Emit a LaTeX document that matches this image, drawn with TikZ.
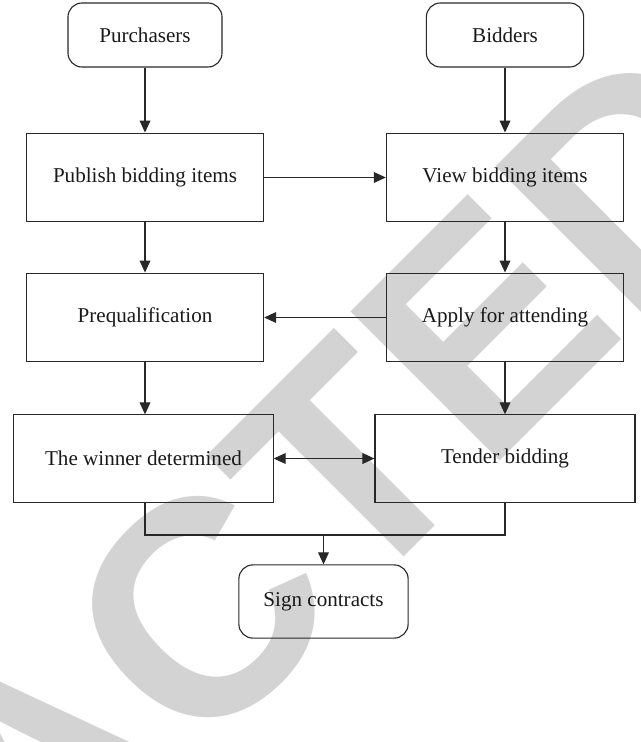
\documentclass[tikz,border=0pt]{standalone}
\usepackage{fontspec}
\setmainfont{Liberation Serif}
\newfontfamily\wmfont{Liberation Sans}
\usetikzlibrary{arrows.meta}
\definecolor{wmgray}{RGB}{211,211,211}
\definecolor{lncol}{RGB}{40,40,40}
\tikzset{
  flowbox/.style={draw=lncol, line width=0.8pt, align=center, font=\fontsize{15}{18}\selectfont, text=black!90, inner sep=0pt},
  roundbox/.style={flowbox, rounded corners=3.5mm},
  flowarrow/.style={draw=lncol, line width=0.8pt, -{Triangle[length=3mm,width=2.7mm]}},
  wmark/.style={rotate=45, inner sep=0pt, text=wmgray, font=\wmfont\bfseries\fontsize{218}{218}\selectfont}
}
\begin{document}
\begin{tikzpicture}[x=0.025cm, y=-0.025cm]
\useasboundingbox (0,0) rectangle (640,742);

% watermark
\begin{scope}
\clip (0,0) rectangle (640,742);
\node[wmark, anchor=base west] at (353,608) {TED};
\node[wmark, anchor=base east] at (353,608) {RETRAC};
\end{scope}

% boxes
\node[roundbox, minimum width=3.85cm, minimum height=1.6cm] (purch) at (145,35) {Purchasers};
\node[roundbox, minimum width=3.93cm, minimum height=1.6cm] (bidd) at (505,35) {Bidders};
\node[flowbox, minimum width=5.93cm, minimum height=2.22cm] (publ) at (145,177.5) {Publish bidding items};
\node[flowbox, minimum width=5.93cm, minimum height=2.22cm] (view) at (505,177.5) {View bidding items};
\node[flowbox, minimum width=5.93cm, minimum height=2.22cm] (preq) at (145,317.5) {Prequalification};
\node[flowbox, minimum width=5.93cm, minimum height=2.22cm] (apply) at (505,317.5) {Apply for attending};
\node[flowbox, minimum width=6.48cm, minimum height=2.18cm] (winner) at (143.5,458.5) {The winner determined};
\node[flowbox, minimum width=6.5cm, minimum height=2.18cm] (tender) at (505,458.5) {Tender bidding};
\node[roundbox, minimum width=4.23cm, minimum height=1.83cm] (sign) at (323.5,601.5) {Sign contracts};
\coordinate (mid) at (323.5,535);

% connectors
\draw[flowarrow] (purch) -- (publ);
\draw[flowarrow] (bidd) -- (view);
\draw[flowarrow] (publ) -- (view);
\draw[flowarrow] (publ) -- (preq);
\draw[flowarrow] (view) -- (apply);
\draw[flowarrow] (apply) -- (preq);
\draw[flowarrow] (preq.south) -- (preq.south |- winner.north);
\draw[flowarrow] (apply) -- (tender);
\draw[flowarrow, {Triangle[length=3mm,width=2.7mm]}-{Triangle[length=3mm,width=2.7mm]}] (winner) -- (tender);
\draw[draw=lncol, line width=0.8pt] (preq.south |- winner.south) -- (preq.south |- mid) -- (apply.south |- mid) -- (apply.south |- tender.south);
\draw[flowarrow] (mid) -- (sign);
\end{tikzpicture}
\end{document}
